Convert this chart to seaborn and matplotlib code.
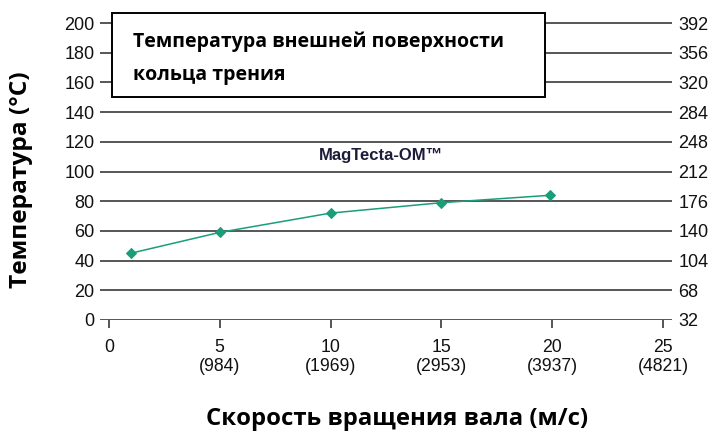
import matplotlib
matplotlib.use("Agg")
import matplotlib.pyplot as plt
import seaborn as sns
from matplotlib.patches import Rectangle

# данные
speed = [1, 5, 10, 15, 19.9]
temp_c = [45, 59, 72, 79, 84]
x_ticks = [0, 5, 10, 15, 20, 25]
x_tick_labels = ["0", "5\n(984)", "10\n(1969)", "15\n(2953)", "20\n(3937)", "25\n(4821)"]
y_ticks_c = [0, 20, 40, 60, 80, 100, 120, 140, 160, 180, 200]
y_ticks_f = [32, 68, 104, 140, 176, 212, 248, 284, 320, 356, 392]
series_name = "MagTecta-OM\u2122"
box_lines = ["Температура внешней поверхности", "кольца трения"]

sns.set_style("white")
plt.rcParams['font.family'] = ['Liberation Sans', 'DejaVu Sans']
title_font = ["Open Sans", "DejaVu Sans"]

W, H = 712, 432
fig = plt.figure(figsize=(W / 100, H / 100), dpi=100)
ax = fig.add_axes([100 / W, 1 - 320 / H, 572 / W, 302 / H])

ymin, ymax = 0, 203.4
xmin, xmax = -0.4, 25.0 + 9 / 22.16

for yv in y_ticks_c:
    ax.axhline(yv, color="#3a3a3a", lw=1.2, zorder=1)

sns.lineplot(x=speed, y=temp_c, ax=ax, color="#1a9e7a", lw=1.1,
             marker="D", markersize=5, markeredgecolor="#1a9e7a", zorder=3)

ax.set_xlim(xmin, xmax)
ax.set_ylim(ymin, ymax)
for s in ax.spines.values():
    s.set_visible(False)

ax.set_xticks(x_ticks)
ax.set_xticklabels(x_tick_labels, fontsize=12.7, color="#111111", linespacing=1.1)
ax.tick_params(axis="x", direction="out", length=6, width=1.2, color="#3a3a3a",
               bottom=True, pad=8)
ax.set_yticks(y_ticks_c)
ax.set_yticklabels([str(v) for v in y_ticks_c], fontsize=13, color="#111111")
ax.tick_params(axis="y", length=0, pad=4)

ax2 = ax.twinx()
ax2.set_ylim(32 + 1.8 * ymin, 32 + 1.8 * ymax)
ax2.set_yticks(y_ticks_f)
ax2.set_yticklabels([str(v) for v in y_ticks_f], fontsize=13, color="#111111")
ax2.tick_params(axis="y", length=0, pad=4.5)
for s in ax2.spines.values():
    s.set_visible(False)

mag = ax.text(12.3, 111, series_name, fontsize=11, fontweight="bold",
              color="#1c1c38", ha="center", va="center")

# подписи осей
ylab = fig.text(21 / W, 1 - 180 / H, "Температура (°C)", rotation=90, fontsize=15.5,
                fontweight="bold", family=title_font, color="black",
                ha="center", va="center")
xlab = fig.text(397 / W, 1 - 425 / H, "Скорость вращения вала (м/с)", fontsize=15.5,
                fontweight="bold", family=title_font, color="black",
                ha="center", va="baseline")

# рамка с заголовком
rect = Rectangle((112 / W, 1 - 97 / H), 433 / W, 84 / H,
                 transform=fig.transFigure, facecolor="white", edgecolor="black",
                 lw=1.4, zorder=10)
fig.patches.append(rect)
box_texts = []
for line, base in zip(box_lines, [47, 80]):
    box_texts.append(fig.text(133 / W, 1 - base / H, line, fontsize=14,
                              fontweight="bold", family=title_font, color="black",
                              va="baseline", ha="left", zorder=11))


def fit_size(txt, target_px, vertical=False):
    # подгоняем размер шрифта под длину надписи на исходной картинке
    fig.canvas.draw()
    bb = txt.get_window_extent(fig.canvas.get_renderer())
    size = bb.height if vertical else bb.width
    txt.set_fontsize(txt.get_fontsize() * target_px / size)
    return txt.get_fontsize()


fs = fit_size(box_texts[0], 372)
box_texts[1].set_fontsize(fs)
fit_size(xlab, 380)
fit_size(ylab, 216, vertical=True)
fit_size(mag, 124)

fig.savefig("out.png", dpi=100)
